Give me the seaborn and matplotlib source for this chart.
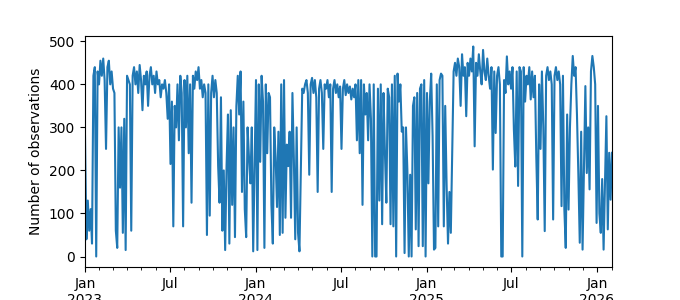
import numpy as np
import pandas as pd
import matplotlib
matplotlib.use("Agg")
import matplotlib.pyplot as plt
import matplotlib.dates as mdates
from matplotlib.ticker import FuncFormatter
import seaborn as sns

start_date = "2023-01-01"
step = "3D"

obs_2023 = [280, 40, 130, 60, 110, 30, 420, 440, 0, 430, 400, 455, 420, 460, 410, 250,
            440, 455, 400, 430, 390, 380, 60, 20, 300, 160, 300, 55, 320, 15, 420, 410,
            400, 60, 420, 440, 400, 430, 380, 445, 410, 340, 420, 400, 430, 350, 420, 440,
            400, 420, 380, 430, 400, 410, 370, 400, 390, 410, 380, 320, 400, 215, 360, 70,
            350, 300, 400, 270, 420, 380, 70, 410, 300, 420, 240, 400, 125, 420, 390, 430,
            410, 440, 390, 410, 370, 400, 380, 50, 400, 95, 380, 420, 370, 410, 380, 210,
            125, 370, 60, 200, 15, 210, 330, 30, 340, 120, 300, 45, 350, 420, 330, 430,
            150, 360, 110, 45, 300, 230, 170, 300, 12, 215]
obs_2024 = [410, 15, 400, 220, 420, 360, 20, 400, 240, 380, 370, 120, 30, 300, 230, 115,
            290, 50, 400, 55, 410, 90, 260, 210, 290, 90, 380, 230, 40, 300, 55, 12,
            200, 390, 380, 400, 410, 380, 190, 400, 415, 380, 410, 370, 150, 390, 410, 380,
            250, 400, 390, 410, 370, 400, 150, 390, 410, 380, 400, 370, 395, 250, 390, 410,
            375, 400, 380, 395, 365, 390, 370, 400, 270, 410, 240, 410, 120, 400, 330, 380,
            270, 400, 320, 0, 400, 0, 0, 390, 130, 400, 75, 380, 240, 125, 390, 370,
            75, 400, 70, 420, 0, 425, 360, 400, 290, 300, 8, 300, 200, 0, 190, 0,
            350, 370, 63, 380, 24, 390, 400, 24, 410, 0]
obs_2025 = [380, 170, 360, 425, 280, 16, 20, 400, 70, 410, 425, 420, 70, 350, 165, 30,
            150, 55, 250, 430, 450, 420, 460, 440, 350, 470, 420, 440, 326, 450, 420, 460,
            430, 488, 256, 450, 420, 470, 430, 400, 480, 430, 410, 460, 420, 390, 440, 202,
            430, 287, 420, 440, 400, 0, 0, 410, 380, 465, 400, 430, 390, 440, 295, 209,
            430, 164, 440, 430, 0, 440, 360, 420, 400, 440, 365, 430, 370, 420, 230, 86,
            400, 250, 430, 300, 59, 420, 440, 410, 430, 400, 86, 420, 440, 410, 430, 400,
            117, 420, 110, 20, 330, 109, 300, 400, 466, 420, 440, 330, 190, 32, 290, 16,
            200, 396, 194, 300, 156, 430, 466, 440, 400, 78]
obs_2026 = [350, 100, 55, 180, 16, 170, 326, 63, 241, 132, 241]

values = obs_2023 + obs_2024 + obs_2025 + obs_2026
dates = pd.date_range(start_date, periods=len(values), freq=step)
df = pd.DataFrame({"date": dates, "n_obs": values})

fig, ax = plt.subplots(figsize=(6.8, 3.0), dpi=100)
sns.lineplot(data=df, x="date", y="n_obs", ax=ax, color="#1f77b4", linewidth=1.5)

ax.set_xlim(df["date"].iloc[0], df["date"].iloc[-1])
ax.xaxis.set_major_locator(mdates.MonthLocator(bymonth=[1, 7]))
ax.xaxis.set_minor_locator(mdates.MonthLocator())


def fmt(x, pos=None):
    d = mdates.num2date(x)
    if d.month == 1:
        return "Jan\n" + str(d.year)
    return d.strftime("%b")


ax.xaxis.set_major_formatter(FuncFormatter(fmt))
ax.xaxis.set_minor_formatter(FuncFormatter(lambda x, pos=None: ""))
for lab in ax.get_xticklabels():
    lab.set_ha("center")
    lab.set_rotation(0)
ax.set_xlabel("")
ax.set_ylabel("Number of observations")

fig.savefig("out.png", dpi=100)
